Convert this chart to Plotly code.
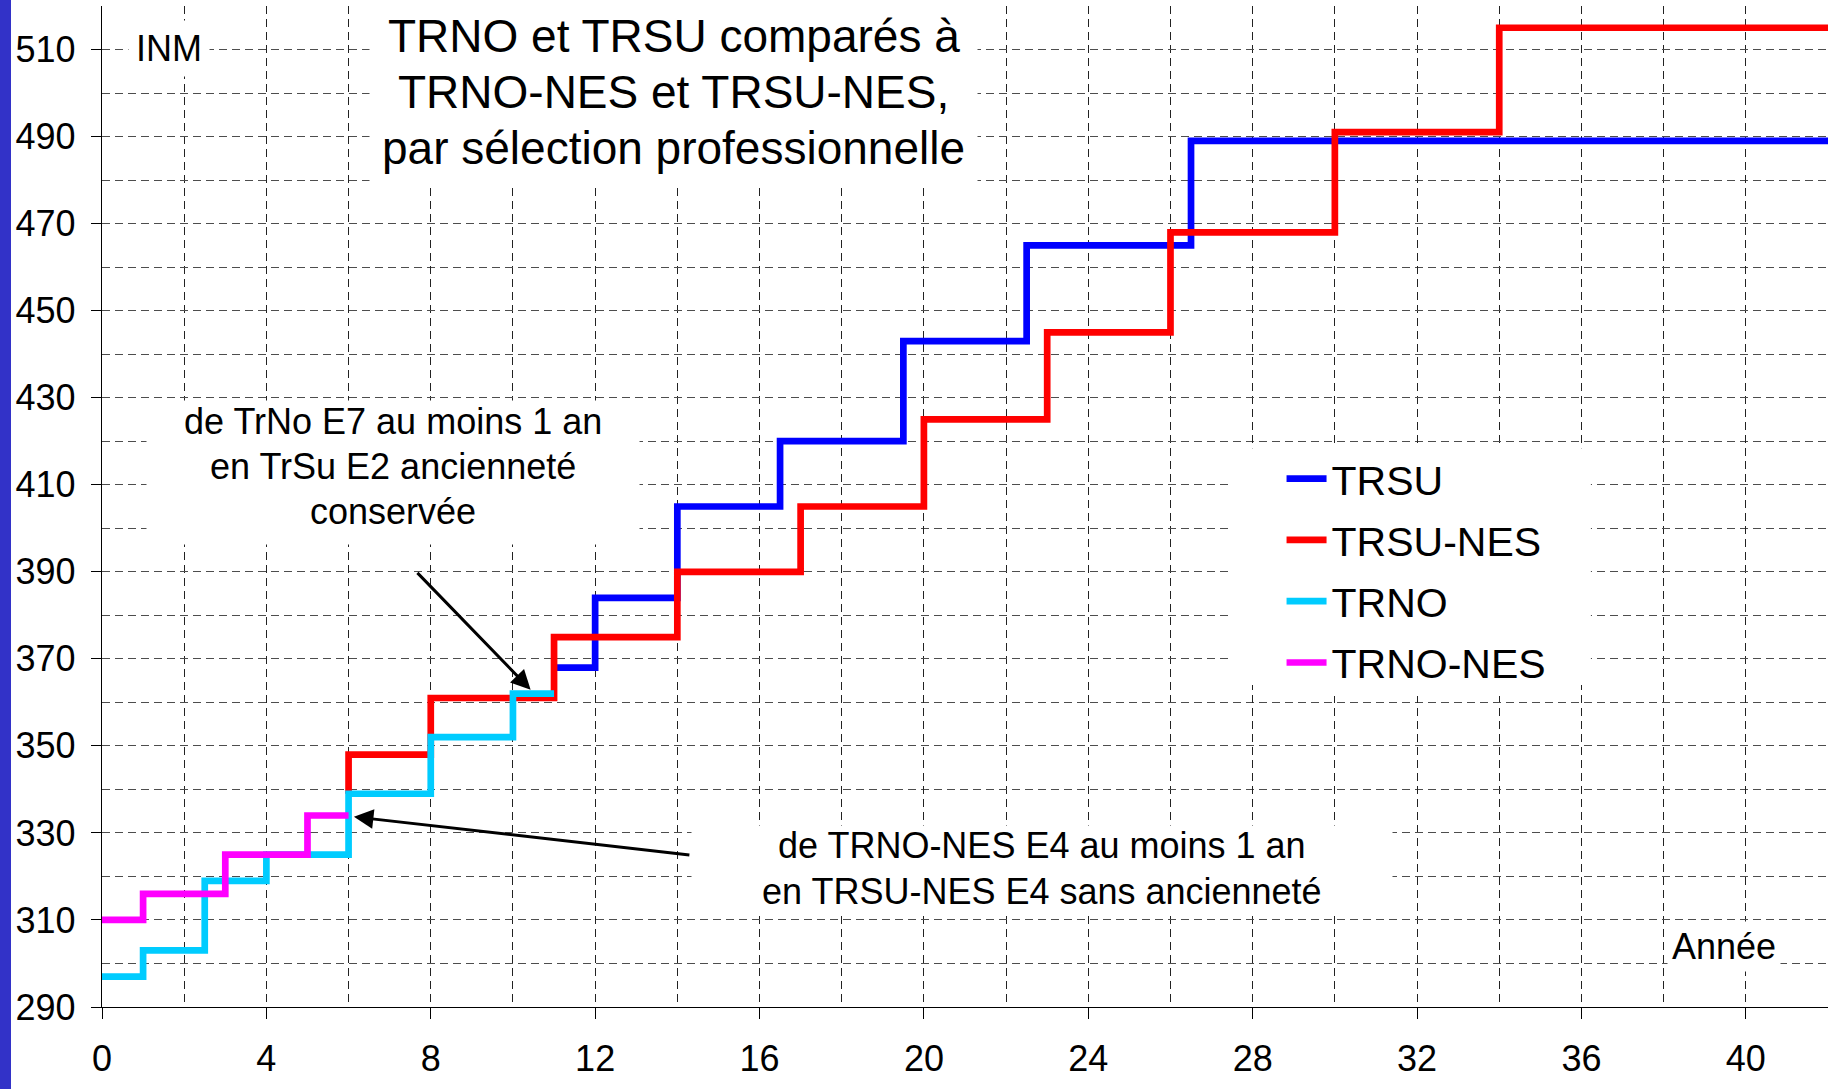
import plotly.graph_objects as go

FONT = "Liberation Sans, Arial, sans-serif"

# ---- data (step start years and INM values) ----
trsu_x = [11, 12, 14, 16.5, 19.5, 22.5, 26.5, 42]
trsu_y = [368, 384, 405, 420, 443, 465, 489, 489]

trsu_nes_x = [6, 6, 8, 11, 14, 17, 20, 23, 26, 30, 34, 42]
trsu_nes_y = [339, 348, 361, 375, 390, 405, 425, 445, 468, 491, 515, 515]

trno_x = [0, 1, 2.5, 4, 6, 8, 10, 11]
trno_y = [297, 303, 319, 325, 339, 352, 362, 362]

trno_nes_x = [0, 1, 3, 5, 6]
trno_nes_y = [310, 316, 325, 334, 334]

series = [
    ("TRSU", trsu_x, trsu_y, "#0000FF"),
    ("TRSU-NES", trsu_nes_x, trsu_nes_y, "#FF0000"),
    ("TRNO", trno_x, trno_y, "#00CCFF"),
    ("TRNO-NES", trno_nes_x, trno_nes_y, "#FF00FF"),
]

x_ticks = list(range(0, 41, 4))
y_ticks = list(range(290, 511, 20))

title_lines = ["TRNO et TRSU comparés à", "TRNO-NES et TRSU-NES,",
               "par sélection professionnelle"]
note1_lines = ["de TrNo E7 au moins 1 an", "en TrSu E2 ancienneté", "conservée"]
note2_lines = ["de TRNO-NES E4 au moins 1 an", "en TRSU-NES E4 sans ancienneté"]

fig = go.Figure()
for i, (name, xs, ys, col) in enumerate(series):
    fig.add_trace(go.Scatter(
        x=xs, y=ys, name=name, mode="lines",
        line=dict(color=col, width=6.7, shape="hv"),
        legendgroup=f"g{i}",
    ))

fig.update_layout(
    width=1834, height=1089,
    margin=dict(l=102, r=6, t=6, b=82),
    paper_bgcolor="white", plot_bgcolor="white",
    font=dict(family=FONT, color="black", size=36),
    showlegend=True,
    legend=dict(
        x=0.6834, y=0.561, xanchor="left", yanchor="top",
        bgcolor="white", borderwidth=0,
        font=dict(size=41, family=FONT, color="black"),
        tracegroupgap=5, itemwidth=40,
    ),
)

fig.update_xaxes(
    range=[0, 42], tickvals=x_ticks, ticktext=[str(v) for v in x_ticks],
    showline=True, linecolor="black", linewidth=1.3,
    ticks="outside", ticklen=11, tickcolor="black", tickwidth=1.3,
    showgrid=True, gridcolor="#222222", gridwidth=1, griddash="8px,5px",
    minor=dict(dtick=2, tick0=0, showgrid=True, gridcolor="#222222",
               gridwidth=1, griddash="8px,5px", ticks=""),
    zeroline=False, tickfont=dict(size=36, family=FONT),
    ticklabelstandoff=9,
)
fig.update_yaxes(
    range=[290, 520], tickvals=y_ticks, ticktext=[str(v) for v in y_ticks],
    showline=True, linecolor="black", linewidth=1.3,
    ticks="outside", ticklen=10, tickcolor="black", tickwidth=1.3,
    showgrid=True, gridcolor="#4d4d4d", gridwidth=1.2, griddash="8px,5px",
    minor=dict(dtick=10, tick0=290, showgrid=True, gridcolor="#4d4d4d",
               gridwidth=1.2, griddash="8px,5px", ticks=""),
    zeroline=False, tickfont=dict(size=36, family=FONT),
    ticklabelstandoff=8,
)

# blue decorative bar at far left
fig.add_shape(type="rect", xref="paper", yref="paper",
              x0=-102 / 1726, x1=-91 / 1726, y0=-82 / 1001, y1=1 + 6 / 1001,
              fillcolor="#3232C8", line=dict(width=0), layer="above")

# white backing behind the legend (covers the grid only)
fig.add_shape(type="rect", xref="x", yref="y", x0=27.47, x1=36.23,
              y0=364.0, y1=418.4, fillcolor="white", line=dict(width=0),
              layer="between")

# white backing boxes for the text blocks
for bx, by, bw, bh in [(13.91, 499.7, 607, 186), (7.08, 412.8, 492, 143),
                       (22.87, 321.5, 700, 88)]:
    fig.add_annotation(x=bx, y=by, xref="x", yref="y", showarrow=False,
                       text=" ", bgcolor="white", width=bw, height=bh,
                       borderpad=0)

# title lines
for txt, yv in zip(title_lines, [513.2, 500.3, 487.4]):
    fig.add_annotation(x=13.91, y=yv, xref="x", yref="y", showarrow=False,
                       text=txt, font=dict(size=46, family=FONT))
# note 1 lines
for txt, yv in zip(note1_lines, [424.6, 414.1, 403.9]):
    fig.add_annotation(x=7.08, y=yv, xref="x", yref="y", showarrow=False,
                       text=txt, font=dict(size=36, family=FONT))
# note 2 lines
for txt, yv in zip(note2_lines, [327.1, 316.6]):
    fig.add_annotation(x=22.87, y=yv, xref="x", yref="y", showarrow=False,
                       text=txt, font=dict(size=36, family=FONT))

# INM label
fig.add_annotation(
    x=1.64, y=510.2, xref="x", yref="y", showarrow=False, text="INM",
    font=dict(size=36, family=FONT), bgcolor="white", borderpad=7,
)
# Année label
fig.add_annotation(
    x=39.48, y=304.0, xref="x", yref="y", showarrow=False, text="Année",
    font=dict(size=36, family=FONT), bgcolor="white", borderpad=4,
)
# arrows
fig.add_annotation(
    x=10.43, y=362.9, ax=7.64, ay=390.1, xref="x", yref="y", axref="x", ayref="y",
    text="", showarrow=True, arrowhead=2, arrowsize=1.3, arrowwidth=3,
    arrowcolor="black", standoff=0,
)
fig.add_annotation(
    x=6.13, y=333.7, ax=14.33, ay=324.9, xref="x", yref="y", axref="x", ayref="y",
    text="", showarrow=True, arrowhead=2, arrowsize=1.3, arrowwidth=3,
    arrowcolor="black", standoff=0,
)

fig.write_html("out.html", config={"displayModeBar": False},
               post_script="document.body.style.margin='0';")
